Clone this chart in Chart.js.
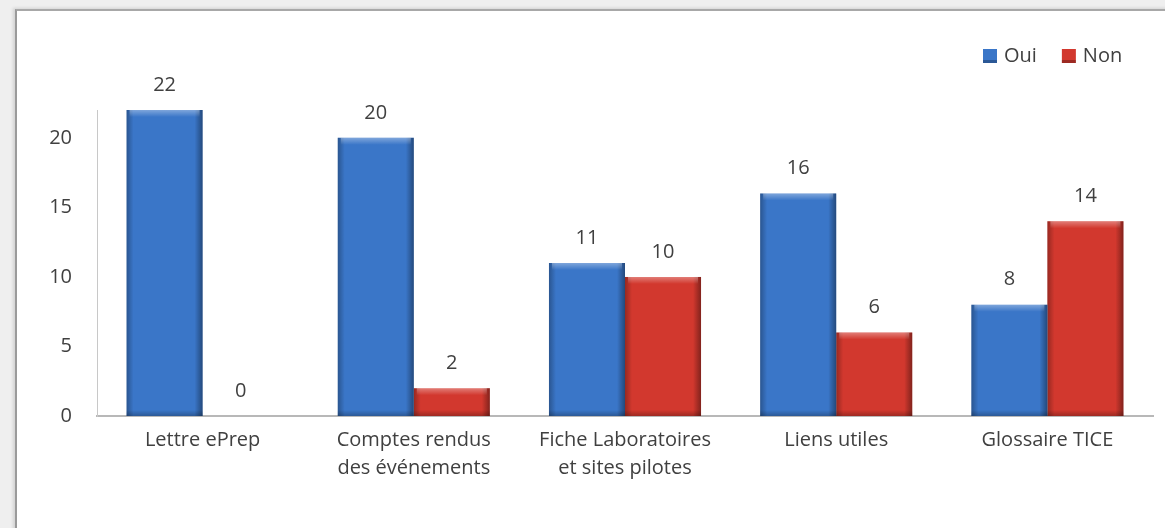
<!DOCTYPE html>
<html lang="fr">
  <head>
    <meta charset="UTF-8" />
    <title>Rubriques</title>
    <script src="https://cdn.jsdelivr.net/npm/chart.js@4"></script>
    <style>
      html, body { margin: 0; padding: 0; }
      body { width: 1165px; height: 528px; background: #efefef; position: relative; overflow: hidden; }
      #box {
        position: absolute; left: 15px; top: 9px; right: -10px; bottom: -10px;
        background: #fff; border-left: 2px solid #9a9a9a; border-top: 2px solid #a8a8a8;
        box-shadow: -2px -1px 3px rgba(0,0,0,0.12);
      }
      #chartWrap { position: absolute; left: 0; top: 0; width: 1165px; height: 528px; }
    </style>
  </head>
  <body>
    <div id="box"></div>
    <div id="chartWrap"><canvas id="chart" width="1165" height="528"></canvas></div>
    <script>
      const categories = [
        "Lettre ePrep",
        ["Comptes rendus", "des événements"],
        ["Fiche Laboratoires", "et sites pilotes"],
        "Liens utiles",
        "Glossaire TICE",
      ];
      const oui = [22, 20, 11, 16, 8];
      const non = [0, 2, 10, 6, 14];
      const yTicks = [0, 5, 10, 15, 20];

      const textColor = "#404040";
      const font = "'Open Sans', 'DejaVu Sans', sans-serif";

      // value labels above each bar
      const valueLabels = {
        id: "valueLabels",
        afterDatasetsDraw(chart) {
          const ctx = chart.ctx;
          ctx.save();
          ctx.font = "20px " + font;
          ctx.fillStyle = textColor;
          ctx.textAlign = "center";
          ctx.textBaseline = "middle";
          chart.data.datasets.forEach((ds, i) => {
            chart.getDatasetMeta(i).data.forEach((bar, j) => {
              ctx.fillText(String(ds.data[j]), bar.x, bar.y - 25);
            });
          });
          ctx.restore();
        },
      };

      // excel-like bevel on the bars
      const bevel = {
        id: "bevel",
        afterDatasetsDraw(chart) {
          const ctx = chart.ctx;
          ctx.save();
          chart.data.datasets.forEach((ds, i) => {
            chart.getDatasetMeta(i).data.forEach((bar) => {
              const h = bar.base - bar.y;
              if (h < 1) return;
              const l = bar.x - bar.width / 2;
              const r = bar.x + bar.width / 2;
              let g = ctx.createLinearGradient(l, 0, l + 7, 0);
              g.addColorStop(0, "rgba(0,0,0,0.28)");
              g.addColorStop(1, "rgba(0,0,0,0)");
              ctx.fillStyle = g;
              ctx.fillRect(l, bar.y, 7, h);
              g = ctx.createLinearGradient(r - 8, 0, r, 0);
              g.addColorStop(0, "rgba(0,0,0,0)");
              g.addColorStop(1, "rgba(0,0,0,0.38)");
              ctx.fillStyle = g;
              ctx.fillRect(r - 8, bar.y, 8, h);
              g = ctx.createLinearGradient(0, bar.y, 0, bar.y + 7);
              g.addColorStop(0, "rgba(255,255,255,0.35)");
              g.addColorStop(1, "rgba(255,255,255,0)");
              ctx.fillStyle = g;
              ctx.fillRect(l + 3, bar.y, bar.width - 6, 7);
              g = ctx.createLinearGradient(0, bar.base - 6, 0, bar.base);
              g.addColorStop(0, "rgba(0,0,0,0)");
              g.addColorStop(1, "rgba(0,0,0,0.25)");
              ctx.fillStyle = g;
              ctx.fillRect(l, bar.base - 6, bar.width, 6);
            });
          });
          ctx.restore();
        },
      };

      // legend top right
      const topLegend = {
        id: "topLegend",
        afterDraw(chart) {
          const ctx = chart.ctx;
          ctx.save();
          ctx.font = "20px " + font;
          ctx.textBaseline = "middle";
          let x = 983;
          const y = 56;
          chart.data.datasets.forEach((ds) => {
            ctx.fillStyle = ds.backgroundColor;
            ctx.fillRect(x, y - 7, 14, 14);
            ctx.fillStyle = "rgba(0,0,0,0.25)";
            ctx.fillRect(x, y + 4, 14, 3);
            ctx.fillStyle = textColor;
            ctx.fillText(ds.label, x + 21, y);
            x += 21 + ctx.measureText(ds.label).width + 25;
          });
          ctx.restore();
        },
      };

      new Chart(document.getElementById("chart"), {
        type: "bar",
        data: {
          labels: categories,
          datasets: [
            { label: "Oui", data: oui, backgroundColor: "#3a76c8" },
            { label: "Non", data: non, backgroundColor: "#d2382e" },
          ],
        },
        options: {
          responsive: false,
          animation: false,
          layout: { padding: { top: 110, right: 12, left: 0, bottom: 0 } },
          datasets: { bar: { barPercentage: 1, categoryPercentage: 0.72 } },
          plugins: { legend: { display: false }, tooltip: { enabled: false } },
          scales: {
            x: {
              grid: { display: false, drawTicks: false },
              border: { color: "#b8b8b8", width: 2 },
              ticks: {
                color: textColor,
                font: { family: font, size: 20, lineHeight: 1.4 },
                padding: 10,
                maxRotation: 0,
                autoSkip: false,
              },
              afterFit(scale) { scale.height = 112; },
            },
            y: {
              min: 0,
              max: 22,
              grid: { display: false, drawTicks: false },
              border: { color: "#c8c8c8", width: 1 },
              afterBuildTicks(scale) { scale.ticks = yTicks.map((v) => ({ value: v })); },
              ticks: {
                color: textColor,
                font: { family: font, size: 20 },
                padding: 25,
              },
              afterFit(scale) { scale.width = 97; },
            },
          },
        },
        plugins: [bevel, valueLabels, topLegend],
      });
    </script>
  </body>
</html>
